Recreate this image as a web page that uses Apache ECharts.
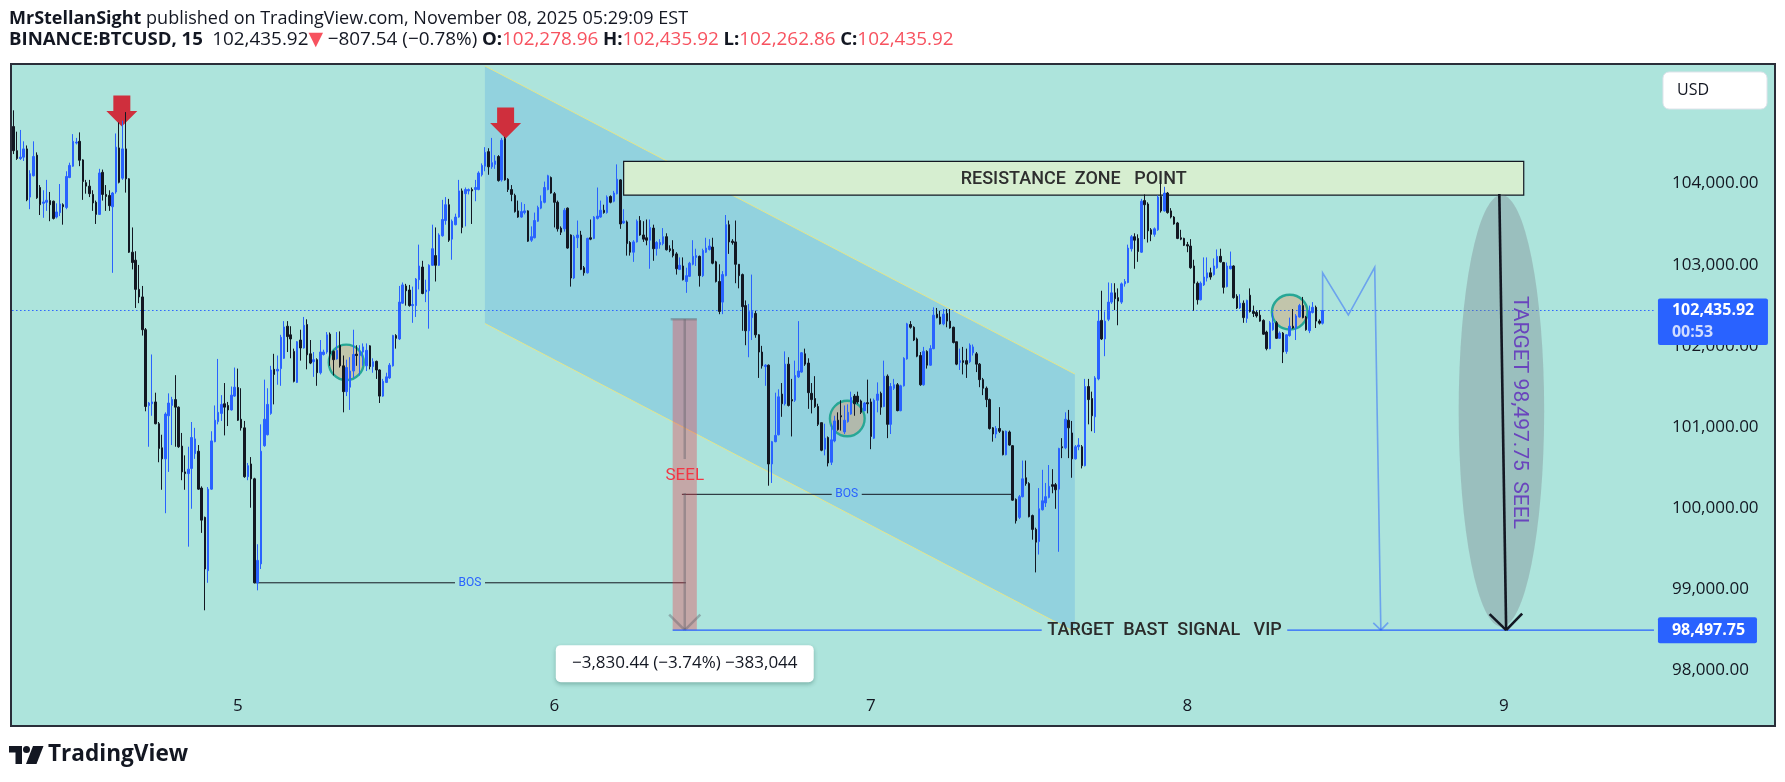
<!DOCTYPE html>
<html>
<head>
<meta charset="utf-8">
<script src="https://cdn.jsdelivr.net/npm/echarts@6/dist/echarts.min.js"></script>
<style>
html,body{margin:0;padding:0;background:#ffffff;}
#chart{width:1785px;height:782px;}
</style>
</head>
<body>
<div id="chart"></div>
<script>
// ---------------- DATA ----------------
// 15-minute BTCUSD bars, first bar 2025-11-04 07:00 UTC. Each row: [open, close, low, high]
const firstBarTime = '2025-11-04 07:00';
const barMinutes = 15;
const slotCount = 498; // visible time slots (bars + empty future space)

const candles = [
// Nov 4 07:00
[104702,104405,104363,104902],[104405,104308,104291,104639],[104308,104325,104291,104660],[104325,104427,104278,104520],
[104427,103799,103782,104469],[103833,104121,103684,104164],[104096,104333,104087,104520],[104350,103824,103811,104384],
[103951,103739,103612,103981],[103756,103773,103578,103917],[103769,103794,103663,104045],[103790,103739,103536,103896],
[103782,103570,103557,103790],[103587,103650,103570,103756],[103642,103748,103599,103994],[103739,103714,103493,103756],
// Nov 4 11:00
[103705,104087,103684,104151],[104074,104223,104066,104257],[104214,104520,104206,104609],[104499,104511,104482,104562],
[104520,104287,104214,104630],[104291,104024,103799,104299],[104011,103968,103875,104045],[103968,103875,103833,104045],
[103866,103761,103663,103917],[103769,103620,103502,103790],[103620,104130,103612,104181],[104138,103866,103790,104172],
[103866,103841,103663,103981],[103854,103727,103663,103917],[103714,103883,102900,103896],[103896,104448,103875,104617],
// Nov 4 15:00
[104439,104015,104002,104753],[104066,104427,104045,104774],[104427,104058,103888,104880],[104058,103154,103145,104066],
[103154,103027,102942,103459],[103056,102696,102467,103166],[102696,102603,102526,102997],[102603,102199,102127,102738],
[102199,101253,101194,102220],[101266,101296,100757,101309],[101287,101309,101139,101894],[101309,101041,101033,101423],
[101041,100736,100566,101062],[100744,100608,100227,100905],[100608,101160,99938,101181],[101139,101296,100447,101415],
// Nov 4 19:00
[101266,101338,100778,101372],[101338,101245,100757,101639],[101245,100757,100744,101253],[100765,100447,100345,100927],
[100447,100426,100227,100651],[100426,100481,99526,100757],[100490,100871,99993,101062],[100672,100854,100608,100990],
[100702,100235,100227,100778],[100248,99853,99696,100269],[99887,99251,98742,99896],[99230,100235,99081,100261],
[100235,100829,100227,100948],[100820,101084,100812,101266],[101067,101181,101033,101839],[101168,101279,101075,101393],
// Nov 4 23:00
[101287,101245,100897,101542],[101266,101211,101012,101309],[101211,101393,101202,101499],[101381,101491,101372,101733],
// Nov 5 00:00
[101487,101084,101075,101720],[101096,100990,100956,101478],[100990,100388,100375,101075],[100388,100524,100345,100557],
[100545,100362,100006,100630],[100362,99081,99073,100375],[99081,99357,98988,99556],[99314,100702,99251,101033],
[100770,101096,100757,101584],[100905,101279,100897,101478],[101168,101703,101151,101754],[101711,101648,101279,101902],
[101690,101711,101521,101881],[101720,102106,101508,102136],[101847,102233,101839,102305],[102242,102114,101924,102305],
// Nov 5 04:00
[102136,102085,101847,102242],[101932,101563,101550,101966],[101550,102051,101542,102059],[102072,101974,101818,102199],
[101974,102254,101966,102356],[102263,101890,101711,102327],[101902,101788,101775,102072],[101805,101830,101618,101924],
[101830,101669,101508,101847],[101669,101924,101648,102072],[101894,101924,101881,101953],[101924,102136,101902,102170],
[102144,101902,101754,102165],[101932,101830,101635,101945],[101839,101945,101830,102170],[102008,101754,101733,102178],
// Nov 5 08:00
[101754,101436,101181,101881],[101436,101733,101381,101830],[101491,101690,101211,101860],[101690,101894,101605,102199],
[101898,101881,101754,102008],[101881,101932,101635,102008],[101924,101987,101754,102030],[101754,101945,101690,102030],
[102000,101745,101711,102008],[101745,101805,101669,101847],[101809,101703,101593,101818],[101703,101381,101296,101711],
[101381,101563,101372,101593],[101550,101618,101542,101669],[101605,101762,101593,101788],[101754,102127,101745,102136],
// Nov 5 12:00
[102127,102093,101966,102144],[102085,102539,102072,102738],[102526,102751,102517,102781],[102738,102679,102496,102764],
[102688,102496,102483,102751],[102496,102509,102284,102730],[102496,102823,102356,102836],[102815,102984,102696,103247],
[102971,102645,102636,103048],[102666,102688,102539,102815],[102679,102993,102212,103005],[102993,103197,102984,103493],
[103112,102993,102793,103459],[102993,103366,102984,103387],[103357,103557,103345,103799],[103544,103739,103493,103833],
// Nov 5 16:00
[103739,103302,103281,103811],[103315,103536,103061,103557],[103493,103587,103485,103629],[103587,103909,103578,104045],
[103909,103459,103387,103939],[103875,103926,103472,103951],[103909,103926,103866,103939],[103926,103909,103502,103951],
[103926,103951,103782,104045],[103926,104130,103917,104151],[104108,104223,104087,104248],[104214,104384,104151,104448],
[104393,104206,104108,104435],[104206,104257,104181,104562],[104236,104278,104181,104350],[104333,104036,104024,104350],
// Nov 5 20:00
[104045,104533,104024,104562],[104554,104045,104036,104575],[104053,103926,103896,104066],[103926,103866,103782,103981],
[103854,103654,103642,103875],[103663,103587,103578,103790],[103587,103654,103578,103769],[103642,103663,103620,103748],
[103663,103290,103281,103671],[103302,103345,103281,103472],[103332,103544,103324,103642],[103536,103705,103527,103727],
[103697,103782,103684,103854],[103769,103951,103756,104024],[103926,104096,103917,104108],[104074,103883,103875,104087],
// Nov 6 00:00
[103875,103769,103459,103896],[103769,103442,103408,103790],[103451,103400,103366,103472],[103442,103671,103408,103697],
[103697,103205,103197,103705],[103366,102836,102730,103374],[102836,103345,102823,103366],[103332,103366,103205,103544],
[103366,102942,102933,103417],[102963,102900,102865,102984],[102900,103324,102891,103332],[103332,103315,103302,103557],
[103324,103587,103315,103599],[103570,103599,103557,103951],[103587,103671,103578,103790],[103671,103642,103629,103739],
// Nov 6 04:00
[103642,103833,103629,103854],[103841,103769,103756,103854],[103782,103883,103769,103909],[103875,104053,103866,104236],
[104045,103502,103442,104053],[103514,103536,103502,103684],[103527,103260,103112,103544],[103273,103154,103112,103290],
[103154,103281,103035,103302],[103281,103536,103273,103557],[103544,103366,103357,103599],[103366,103315,103281,103536],
[103332,103302,103239,103557],[103302,103459,102950,103557],[103451,103197,103048,103493],[103197,103273,103112,103290],
// Nov 6 08:00
[103247,103273,103197,103315],[103260,103345,103239,103451],[103345,103184,103175,103387],[103197,103175,103154,103239],
[103188,103112,103090,103302],[103133,102950,102878,103154],[102942,102993,102933,103090],[102984,102815,102806,103090],
[102793,102865,102653,102963],[102857,103018,102848,103035],[103005,103103,102993,103302],[103090,103112,102984,103197],
[103103,102865,102730,103112],[102865,103175,102848,103197],[103154,103205,103145,103332],[103188,103230,103175,103315],
// Nov 6 12:00
[103217,103018,103005,103332],[103035,102793,102781,103048],[102793,102424,102390,103005],[102539,102878,102391,102921],
[102865,103493,102857,103612],[103493,103281,103133,103544],[103290,103273,103247,103315],[103281,103005,102772,103544],
[103005,102865,102709,103005],[102878,102483,102186,102891],[102496,102186,102008,102560],[102186,102424,101860,102517],
[102348,102424,102072,102878],[102399,102136,102100,102433],[102136,101924,101605,102144],[101924,101754,101720,102000],
// Nov 6 16:00
[101745,101762,101508,101775],[101762,100545,100277,101771],[100545,100820,100311,100829],[100820,100897,100812,101423],
[100905,101372,100897,101465],[101406,101287,101126,101542],[101287,101775,101266,101932],[101775,101266,101253,101860],
[101338,101321,100884,101593],[101330,101635,101309,101818],[101618,101690,101605,102305],[101677,101915,101669,101924],
[101902,101775,101754,101966],[101788,101423,101224,101847],[101415,101338,101168,101542],[101351,101253,101236,101627],
// Nov 6 20:00
[101253,101033,101012,101287],[101054,100714,100702,101054],[100727,100863,100651,101041],[100871,100557,100515,100884],
[100566,100842,100532,101033],[100829,101075,100812,101139],[101084,100969,100956,101181],[101139,101126,100956,101330],
[100939,101084,100914,101266],[101067,101181,101054,101279],[101160,101364,101151,101436],[101381,101287,101139,101406],
[101381,101309,101287,101436],[101321,101181,101160,101338],[101202,101296,101194,101309],[101300,101287,101168,101584],
// Nov 7 00:00
[101309,100884,100727,101351],[100863,101330,100854,101351],[101330,101406,101181,101550],[101415,101245,101151,101436],
[101253,101627,101245,101818],[101627,101033,100863,101648],[101033,101499,100914,101542],[101478,101521,101457,101593],
[101521,101202,101194,101542],[101202,101508,101194,101521],[101508,101847,101499,101860],[101839,102271,101830,102284],
[102263,102229,102212,102305],[102229,102072,102059,102242],[102085,101873,101860,102102],[101881,101521,101508,101924],
// Nov 7 04:00
[101521,101932,101508,101987],[101932,101762,101720,101945],[101762,101966,101754,102008],[101966,102378,101958,102475],
[102391,102348,102339,102467],[102356,102271,102263,102433],[102271,102391,102254,102454],[102399,102305,102229,102454],
[102305,102220,102212,102454],[102229,102042,102030,102237],[102051,101775,101762,102051],[101796,101818,101703,101966],
[101818,101796,101648,101987],[101818,101775,101605,101966],[101805,102008,101788,102030],[101915,101987,101881,102017],
// Nov 7 08:00
[101902,101775,101677,101924],[101775,101584,101491,101788],[101584,101478,101393,101605],[101478,101338,101245,101499],
[101338,100982,100969,101351],[100990,100914,100820,100999],[100914,100982,100863,101012],[100982,100948,100927,101245],
[100948,100659,100651,100956],[100659,100948,100651,100956],[100939,100778,100770,100956],[100770,100099,100091,100778],
[100108,99845,99811,100121],[99887,100142,99866,100163],[100142,100362,100133,100587],[100375,100303,100277,100587],
// Nov 7 12:00
[100303,99896,99887,100320],[99909,99739,99612,99921],[99739,99582,99209,99760],[99590,99993,99429,100248],
[99981,100091,99972,100473],[100065,100142,100015,100311],[100133,100269,100121,100532],[100290,100269,100184,100481],
[100290,100227,99993,100311],[100235,100736,99463,100744],[100757,100744,100617,100863],[100744,101096,100727,101181],
[101084,100990,100617,101211],[100927,100608,100375,101075],[100608,100757,100600,100778],[100757,100778,100714,100863],
// Nov 7 16:00
[100757,100524,100490,100778],[100524,101499,100515,101593],[101499,101338,101033,101593],[101351,101139,100948,101436],
[101126,101605,100927,101627],[101593,102305,101576,102441],[102314,102085,102072,102679],[102085,102305,101873,102424],
[102327,102539,102305,102781],[102539,102653,102517,102772],[102653,102581,102441,102772],[102594,102552,102254,102708],
[102539,102764,102517,102781],[102764,102793,102730,102823],[102781,103205,102772,103247],[103197,103345,103162,103366],
// Nov 7 20:00
[103345,103302,102950,103387],[103324,103162,103035,103374],[103154,103782,103145,103811],[103790,103739,103315,103866],
[103748,103417,103273,103769],[103430,103374,103290,103451],[103374,103442,103345,103459],[103430,103833,103417,103854],
[103841,103663,103642,104045],[103663,103883,103654,103960],[103883,103642,103629,103896],[103663,103587,103570,103697],
[103587,103502,103493,103599],[103514,103324,103315,103527],[103332,103315,103302,103430],[103324,103239,103230,103332],
// Nov 8 00:00
[103247,103230,103154,103281],[103230,102963,102950,103315],[102984,102772,102433,103061],[102772,102568,102509,102793],
[102568,102772,102560,102793],[102751,102848,102738,103090],[102836,102900,102793,103090],[102900,102848,102815,102963],
[102878,102984,102865,103078],[102963,103103,102950,103188],[103103,103035,103027,103197],[103027,102721,102645,103035],
[102730,102984,102721,103027],[102950,102984,102942,103162],[102984,102594,102581,102993],[102611,102467,102454,102636],
// Nov 8 04:00
[102467,102526,102454,102636],[102526,102348,102284,102560],[102339,102560,102284,102569],[102624,102424,102411,102708],
[102424,102399,102356,102496],[102411,102369,102348,102433],[102378,102305,102297,102441],[102314,102144,102136,102327],
[102170,101966,101945,102187],[101966,102284,101958,102305],[102199,102284,102187,102411],[102284,102093,102085,102305],
[102093,102157,102085,102178],[102157,101924,101788,102170],[101932,102136,101902,102144],[102127,102242,102114,102348],
// Nov 8 08:00
[102242,102220,102212,102454],[102220,102369,102072,102391],[102356,102496,102348,102517],[102496,102348,102339,102603],
[102356,102199,102187,102369],[102187,102424,102157,102496],[102411,102475,102399,102539],[102475,102305,102220,102496],
[102305,102280,102263,102327],[102278.96,102435.92,102262.86,102435.92]
];

// Price scale ticks shown
const priceTicks = [98000, 99000, 100000, 101000, 102000, 103000, 104000];
const lastPrice = 102435.92;
const lastPriceCountdown = '00:53';
const targetPrice = 98497.75;

// Header texts
const headerLine1 = '{b|MrStellanSight} published on TradingView.com, November 08, 2025 05:29:09 EST';
const headerLine2 = '{b|BINANCE:BTCUSD, 15}  {n|102,435.92}{r|▼} {n|−807.54 (−0.78%)} {b|O:}{r|102,278.96} {b|H:}{r|102,435.92} {b|L:}{r|102,262.86} {b|C:}{r|102,435.92}';

// Drawings (time, price anchors)
const channel = [['2025-11-05 18:44', 105448], ['2025-11-07 15:28', 101653], ['2025-11-07 15:28', 98474], ['2025-11-05 18:44', 102275]];
const resistanceZone = { from: '2025-11-06 05:15', to: '2025-11-09 01:30', top: 104273, bottom: 103858, text: 'RESISTANCE  ZONE   POINT' };
const sellArrows = [['2025-11-04 15:12', 104702], ['2025-11-05 20:18', 104554]];
const circles = [
  ['2025-11-05 06:48', '2025-11-05 09:38', 102030, 101563],
  ['2025-11-06 20:48', '2025-11-06 23:37', 101338, 100872],
  ['2025-11-08 06:19', '2025-11-08 09:12', 102645, 102187]
];
const bosLines = [
  { from: '2025-11-05 01:18', to: '2025-11-06 09:58', price: 99081, labelAt: '2025-11-05 17:36', label: 'BOS' },
  { from: '2025-11-06 09:40', to: '2025-11-07 10:48', price: 100171, labelAt: '2025-11-06 22:10', label: 'BOS' }
];
const measure = { from: '2025-11-06 08:58', to: '2025-11-06 10:48', top: 102328.19, bottom: targetPrice, label: 'SEEL', labelPrice: 100396, stats: '−3,830.44 (−3.74%) −383,044' };
const targetLabel = { text: 'TARGET  BAST  SIGNAL   VIP', at: '2025-11-07 22:16', gapFrom: '2025-11-07 12:57', gapTo: '2025-11-08 07:34' };
const mPath = [['2025-11-08 10:15', 102436], ['2025-11-08 10:15', 102901], ['2025-11-08 12:12', 102380], ['2025-11-08 14:12', 102968], ['2025-11-08 14:40', targetPrice]];
const targetEllipse = { from: '2025-11-08 20:34', to: '2025-11-09 03:03', top: 103858, bottom: 98540 };
const targetArrow = [['2025-11-08 23:39', 103870], ['2025-11-09 00:10', targetPrice]];
const targetNote = { at: ['2025-11-09 01:10', 101179], text: 'TARGET 98,497.75  SEEL' };

// ---------------- HELPERS ----------------
const t0 = Date.parse(firstBarTime.replace(' ', 'T') + ':00Z');
const pad = n => String(n).padStart(2, '0');
const categories = [];
for (let i = 0; i < slotCount; i++) {
  const d = new Date(t0 + i * barMinutes * 60000);
  categories.push(d.getUTCFullYear() + '-' + pad(d.getUTCMonth() + 1) + '-' + pad(d.getUTCDate()) + ' ' + pad(d.getUTCHours()) + ':' + pad(d.getUTCMinutes()));
}
const slot = t => (Date.parse(t.replace(' ', 'T') + ':00Z') - t0) / (barMinutes * 60000);
const fmtPrice = v => v.toLocaleString('en-US', { minimumFractionDigits: 2, maximumFractionDigits: 2 });

const BLUE = '#2962ff';
const INK = '#131722';

function renderDrawings(params, api) {
  const cs = params.coordSys;
  const right = cs.x + cs.width;
  const P = (t, p) => api.coord([slot(t), p]);
  const Y = p => api.coord([0, p])[1];
  const kids = [];
  const line = (x1, y1, x2, y2, stroke, lw, dash) => kids.push({ type: 'line', shape: { x1, y1, x2, y2 }, style: { stroke, lineWidth: lw, lineDash: dash || null } });
  const text = (s, x, y, st, extra) => kids.push(Object.assign({ type: 'text', style: Object.assign({ text: s, x, y, align: 'center', verticalAlign: 'middle' }, st) }, extra || {}));
  const arrowHead = (a, b, len, ang, stroke, lw) => {
    const dx = b[0] - a[0], dy = b[1] - a[1], L = Math.hypot(dx, dy), ux = dx / L, uy = dy / L;
    [ang, -ang].forEach(g => {
      const c = Math.cos(g), s = Math.sin(g);
      const wx = -(ux * c - uy * s) * len, wy = -(ux * s + uy * c) * len;
      line(b[0], b[1], b[0] + wx, b[1] + wy, stroke, lw);
    });
  };

  // descending channel
  const ch = channel.map(c => P(c[0], c[1]));
  kids.push({ type: 'polygon', shape: { points: ch }, style: { fill: 'rgba(41,140,230,0.2)' } });
  line(ch[0][0], ch[0][1], ch[1][0], ch[1][1], '#e4e68c', 1);
  line(ch[3][0], ch[3][1], ch[2][0], ch[2][1], '#e4e68c', 1);

  // circles
  circles.forEach(c => {
    const a = P(c[0], c[2]), b = P(c[1], c[3]);
    const rx = (b[0] - a[0]) / 2 - 1.2, ry = (b[1] - a[1]) / 2 - 1.2;
    kids.push({ type: 'circle', x: (a[0] + b[0]) / 2, y: (a[1] + b[1]) / 2, scaleX: rx / ry, shape: { cx: 0, cy: 0, r: ry },
      style: { fill: 'rgba(235,140,80,0.35)', stroke: '#27a796', lineWidth: 2.4 } });
  });

  // sell arrows
  sellArrows.forEach(a => {
    const [x, y] = P(a[0], a[1]);
    kids.push({ type: 'polygon', shape: { points: [[x - 8.5, y - 31], [x + 8.5, y - 31], [x + 8.5, y - 15.5], [x + 15.5, y - 15.5], [x, y], [x - 15.5, y - 15.5], [x - 8.5, y - 15.5]] },
      style: { fill: '#cf2f3d' } });
  });

  // resistance zone
  const r1 = P(resistanceZone.from, resistanceZone.top), r2 = P(resistanceZone.to, resistanceZone.bottom);
  kids.push({ type: 'rect', shape: { x: r1[0], y: r1[1], width: r2[0] - r1[0], height: r2[1] - r1[1] }, style: { fill: '#d6eed0', stroke: INK, lineWidth: 1.2 } });
  text(resistanceZone.text, (r1[0] + r2[0]) / 2, (r1[1] + r2[1]) / 2 + 1, { fill: '#2e2e2e', fontSize: 18, fontWeight: 500, fontFamily: 'Roboto' });

  // BOS lines
  bosLines.forEach(b => {
    const a = P(b.from, b.price), e = P(b.to, b.price), m = P(b.labelAt, b.price);
    line(a[0], a[1], m[0] - 15, a[1], INK, 1);
    line(m[0] + 15, a[1], e[0], a[1], INK, 1);
    text(b.label, m[0], a[1], { fill: BLUE, fontSize: 12, fontFamily: 'Roboto' });
  });

  // current price dotted line
  const yL = Y(lastPrice);
  line(cs.x, yL, right, yL, BLUE, 1, [1.5, 2.5]);

  // measure (SEEL)
  const m1 = P(measure.from, measure.top), m2 = P(measure.to, measure.bottom);
  const mx = (m1[0] + m2[0]) / 2;
  const gray = 'rgba(95,95,105,0.42)';
  kids.push({ type: 'rect', shape: { x: m1[0], y: m1[1], width: m2[0] - m1[0], height: m2[1] - m1[1] }, style: { fill: 'rgba(242,54,69,0.35)' } });
  line(m1[0] - 2, m1[1], m2[0], m1[1], gray, 2.5);
  const ty = Y(measure.labelPrice);
  line(mx, m1[1], mx, ty - 17, gray, 2.5);
  line(mx, ty + 17, mx, m2[1], gray, 2.5);
  arrowHead([mx, m1[1]], [mx, m2[1]], 22, Math.PI / 4, gray, 2.5);
  text(measure.label, mx, ty, { fill: '#f23645', fontSize: 17, fontFamily: 'Roboto' });
  kids.push({ type: 'rect', shape: { x: mx - 129, y: m2[1] + 15, width: 258, height: 37, r: 5 },
    style: { fill: '#ffffff', shadowBlur: 4, shadowColor: 'rgba(0,60,50,0.3)', shadowOffsetY: 2 } });
  text(measure.stats, mx, m2[1] + 33.5, { fill: INK, fontSize: 17, fontFamily: 'Open Sans' });

  // target line
  const yT = Y(targetPrice);
  const g1 = P(targetLabel.gapFrom, targetPrice)[0], g2 = P(targetLabel.gapTo, targetPrice)[0];
  line(m1[0], yT, g1, yT, BLUE, 1.2);
  line(g2, yT, right, yT, BLUE, 1.2);
  text(targetLabel.text, P(targetLabel.at, targetPrice)[0], yT, { fill: '#2b2b2b', fontSize: 18, fontWeight: 500, fontFamily: 'Roboto' });

  // projected M path
  const mp = mPath.map(c => P(c[0], c[1]));
  const mStroke = 'rgba(41,98,255,0.5)';
  kids.push({ type: 'polyline', shape: { points: mp }, style: { stroke: mStroke, lineWidth: 1.6, fill: null } });
  arrowHead(mp[mp.length - 2], mp[mp.length - 1], 10.5, Math.PI / 4, mStroke, 1.6);

  // target ellipse + arrow + note
  const e1 = P(targetEllipse.from, targetEllipse.top), e2 = P(targetEllipse.to, targetEllipse.bottom);
  const erx = (e2[0] - e1[0]) / 2, ery = (e2[1] - e1[1]) / 2;
  kids.push({ type: 'circle', x: (e1[0] + e2[0]) / 2, y: (e1[1] + e2[1]) / 2, scaleX: erx / ery, shape: { cx: 0, cy: 0, r: ery }, style: { fill: 'rgba(120,123,134,0.35)' } });
  const ta = P(targetArrow[0][0], targetArrow[0][1]), tb = P(targetArrow[1][0], targetArrow[1][1]);
  line(ta[0], ta[1], tb[0], tb[1], INK, 2.6);
  arrowHead(ta, tb, 23, Math.PI / 4, INK, 2.6);
  const tn = P(targetNote.at[0], targetNote.at[1]);
  text(targetNote.text, 0, 0, { fill: '#6a45bd', fontSize: 21, fontFamily: 'Roboto' }, { x: tn[0], y: tn[1], rotation: -Math.PI / 2 });

  // price scale labels
  const bx = right + 4;
  kids.push({ type: 'rect', shape: { x: bx, y: yL - 12, width: 110, height: 46.5, r: 2 }, style: { fill: BLUE } });
  kids.push({ type: 'text', style: { text: fmtPrice(lastPrice), x: bx + 14, y: yL, align: 'left', verticalAlign: 'middle', fill: '#ffffff', fontSize: 16, fontWeight: 'bold', fontFamily: 'Open Sans' } });
  kids.push({ type: 'text', style: { text: lastPriceCountdown, x: bx + 14, y: yL + 21.5, align: 'left', verticalAlign: 'middle', fill: 'rgba(255,255,255,0.78)', fontSize: 16, fontWeight: 'bold', fontFamily: 'Open Sans' } });
  kids.push({ type: 'rect', shape: { x: bx, y: yT - 13, width: 99, height: 26, r: 2 }, style: { fill: BLUE } });
  kids.push({ type: 'text', style: { text: fmtPrice(targetPrice), x: bx + 14, y: yT, align: 'left', verticalAlign: 'middle', fill: '#ffffff', fontSize: 16, fontWeight: 'bold', fontFamily: 'Open Sans' } });

  return { type: 'group', children: kids };
}

// ---------------- CHART ----------------
const chart = echarts.init(document.getElementById('chart'), null, { renderer: 'canvas', devicePixelRatio: 1 });
const option = {
  animation: false,
  backgroundColor: '#ffffff',
  grid: { left: 12.05, right: 131.04, top: 21.2, bottom: 30.3, outerBoundsMode: 'none', containLabel: false },
  xAxis: [
    {
      type: 'category', data: categories, boundaryGap: true, offset: -54,
      axisLine: { show: false }, axisTick: { show: false }, splitLine: { show: false },
      axisLabel: {
        interval: (i, v) => v.endsWith(' 00:00'),
        formatter: v => String(parseInt(v.slice(8, 10), 10)),
        color: INK, fontSize: 17, fontFamily: 'Open Sans', margin: 0, hideOverlap: false
      }
    },
    { type: 'value', min: -0.5, max: slotCount - 0.5, show: false }
  ],
  yAxis: {
    type: 'value', position: 'right', min: 97000, max: 106000, interval: 1000,
    axisLine: { show: false }, axisTick: { show: false }, splitLine: { show: false },
    axisLabel: {
      margin: 18, align: 'left', color: INK, fontSize: 17, fontFamily: 'Open Sans',
      formatter: v => priceTicks.indexOf(v) >= 0 ? fmtPrice(v) : ''
    }
  },
  series: [
    { type: 'custom', xAxisIndex: 1, yAxisIndex: 0, z: 1, clip: false, silent: true, data: [[0, 100000]], renderItem: renderDrawings },
    {
      type: 'candlestick', xAxisIndex: 0, yAxisIndex: 0, z: 2, data: candles, barWidth: 2, silent: true,
      itemStyle: { color: BLUE, color0: INK, borderColor: BLUE, borderColor0: INK, borderColorDoji: INK, borderWidth: 1 }
    }
  ],
  graphic: [
    { type: 'rect', z: -10, silent: true, shape: { x: 11, y: 64, width: 1764, height: 662 }, style: { fill: '#ade4dc' } },
    { type: 'rect', z: 100, silent: true, shape: { x: 11, y: 64, width: 1764, height: 662 }, style: { fill: null, stroke: '#2a2e39', lineWidth: 2 } },
    { type: 'rect', z: 100, silent: true, shape: { x: 1663, y: 72, width: 104, height: 37, r: 6 }, style: { fill: '#ffffff', stroke: '#e0e3eb', lineWidth: 1 } },
    { type: 'text', z: 101, silent: true, x: 1677, y: 90.5, style: { text: 'USD', fontSize: 16, fontFamily: 'Open Sans', fill: INK, verticalAlign: 'middle', align: 'left' } },
    { type: 'text', z: 101, silent: true, x: 9, y: 19, style: { text: headerLine1, fontSize: 18, fontFamily: 'Open Sans', fill: INK, verticalAlign: 'middle', align: 'left',
      rich: { b: { fontSize: 18, fontFamily: 'Open Sans', fontWeight: 'bold', fill: INK } } } },
    { type: 'text', z: 101, silent: true, x: 9, y: 40, style: { text: headerLine2, fontSize: 18, fontFamily: 'Open Sans', fill: INK, verticalAlign: 'middle', align: 'left',
      rich: {
        b: { fontSize: 18.6, fontFamily: 'Open Sans', fontWeight: 'bold', fill: INK },
        n: { fontSize: 18.9, fontFamily: 'Open Sans', fill: INK },
        r: { fontSize: 18.9, fontFamily: 'Open Sans, DejaVu Sans', fill: '#f7525f' }
      } } },
    // TradingView logo
    { type: 'polygon', z: 101, silent: true, shape: { points: [[9, 746], [22, 746], [22, 764], [15.5, 764], [15.5, 752.5], [9, 752.5]] }, style: { fill: INK } },
    { type: 'circle', z: 101, silent: true, shape: { cx: 26.5, cy: 749.5, r: 3.5 }, style: { fill: INK } },
    { type: 'polygon', z: 101, silent: true, shape: { points: [[33, 746], [43.5, 746], [36.5, 764], [26, 764]] }, style: { fill: INK } },
    { type: 'text', z: 101, silent: true, x: 48, y: 755, style: { text: 'TradingView', fontSize: 22.6, fontWeight: 'bold', fontFamily: 'Open Sans', fill: INK, verticalAlign: 'middle', align: 'left' } }
  ]
};
chart.setOption(option);
</script>
</body>
</html>
